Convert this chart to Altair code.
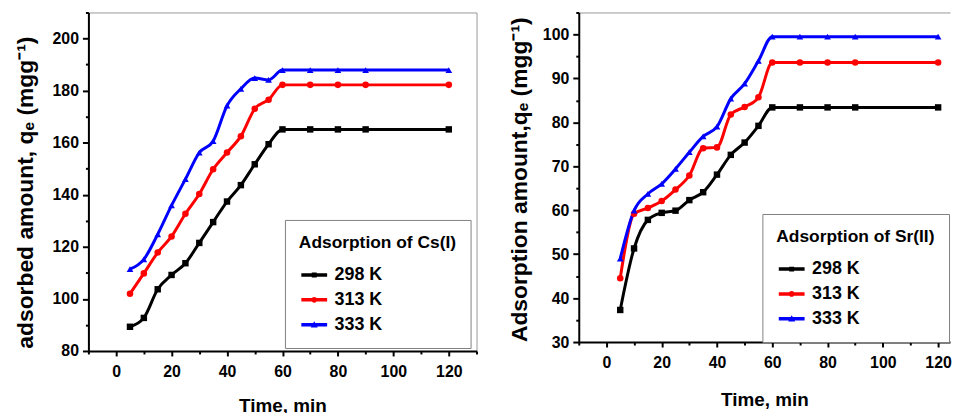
import altair as alt
import pandas as pd

# ---------------- data ----------------
time_min = [5, 10, 15, 20, 25, 30, 35, 40, 45, 50, 55, 60, 70, 80, 90, 120]
temperatures = ["298 K", "313 K", "333 K"]

cs_298 = [89.3, 92.7, 103.7, 109.2, 113.7, 121.5, 129.5, 137.4, 143.7, 151.7, 159.4, 165.1, 165.1, 165.1, 165.1, 165.1]
cs_313 = [102.0, 109.8, 117.8, 124.0, 132.7, 140.3, 149.8, 156.2, 162.5, 173.0, 176.5, 182.2, 182.2, 182.2, 182.2, 182.2]
cs_333 = [111.4, 115.2, 124.8, 135.9, 146.0, 156.2, 160.6, 174.2, 180.7, 184.8, 184.1, 187.9, 187.9, 187.9, 187.9, 187.9]

sr_298 = [37.3, 51.3, 57.8, 59.4, 59.9, 62.3, 64.1, 68.1, 72.6, 75.4, 79.2, 83.4, 83.4, 83.4, 83.4, 83.4]
sr_313 = [44.5, 59.2, 60.5, 62.1, 64.7, 67.9, 74.1, 74.3, 81.8, 83.5, 85.7, 93.6, 93.6, 93.6, 93.6, 93.6]
sr_333 = [49.0, 59.9, 63.7, 66.0, 69.4, 73.2, 76.8, 79.0, 85.4, 88.8, 94.0, 99.5, 99.5, 99.5, 99.5, 99.5]

cs_x_ticks = [-10, 0, 10, 20, 30, 40, 50, 60, 70, 80, 90, 100, 110, 120, 130]
cs_y_ticks = [80, 90, 100, 110, 120, 130, 140, 150, 160, 170, 180, 190, 200, 210]
sr_x_ticks = [-10, 0, 10, 20, 30, 40, 50, 60, 70, 80, 90, 100, 110, 120]
sr_y_ticks = [30, 35, 40, 45, 50, 55, 60, 65, 70, 75, 80, 85, 90, 95, 100, 105]

# ---------------- styling ----------------
colors = ["#000000", "#ff0000", "#0000ff"]
marker_shapes = ["square", "circle", "triangle-up"]
marker_sizes = [42, 45, 70]
# legend symbols: short line with the marker on it
legend_symbols = [
    "M-1,-0.27H3V0.27H-1Z M0.62,-0.38H1.38V0.38H0.62Z",
    "M-1,-0.27H3V0.27H-1Z M0.54,0A0.46,0.46 0 1,1 1.46,0A0.46,0.46 0 1,1 0.54,0Z",
    "M-1,-0.27H3V0.27H-1Z M0.46,0.42L1,-0.52L1.54,0.42Z",
]
FONT = "Liberation Sans"
FRAME = "#999999"


def long_table(series_list):
    rows = []
    for temp, vals in zip(temperatures, series_list):
        for t, q in zip(time_min, vals):
            rows.append({"time": t, "q": q, "temp": temp})
    return pd.DataFrame(rows)


def panel(df, y_title, y_title_size, y_title_y, y_domain, y_values, y_major, x_domain, x_values,
          legend_title, legend_x, legend_y, width, height, y_title_pad, x_title_pad, open_right):
    x_minor = "datum.value < 0 || datum.value > 120 || datum.value % 20 != 0"
    x_axis = alt.Axis(
        values=x_values, title="Time, min",
        labelExpr=f"({x_minor}) ? '' : datum.label",
        labelFontSize={"condition": {"test": x_minor, "value": 0}, "value": 16},
        tickSize={"condition": {"test": x_minor, "value": 3}, "value": 5},
        labelPadding=8, titlePadding=x_title_pad, titleFontSize=19, grid=False,
        labelFlush=False, labelOverlap=False,
    )
    y_minor = f"datum.value % {y_major} != 0"
    y_axis = alt.Axis(
        values=y_values, title=y_title, titleY=y_title_y,
        labelExpr=f"({y_minor}) ? '' : datum.label",
        labelFontSize={"condition": {"test": y_minor, "value": 0}, "value": 16},
        tickSize={"condition": {"test": y_minor, "value": 3}, "value": 6},
        labelPadding=4, titlePadding=y_title_pad, titleFontSize=y_title_size, grid=False,
        labelFlush=False, labelOverlap=False,
    )
    x_scale = alt.Scale(domain=x_domain, nice=False, zero=False)
    x = alt.X("time:Q", scale=x_scale, axis=x_axis)
    x_plain = alt.X("time:Q", scale=x_scale, axis=None)
    # top frame line drawn as a bare top axis (used where the right frame is cut off)
    x_top = alt.X("time:Q", scale=x_scale, axis=alt.Axis(
        orient="top", title=None, labels=False, ticks=False, grid=False,
        domainColor=FRAME, domainWidth=1))
    y = alt.Y("q:Q", scale=alt.Scale(domain=y_domain, nice=False, zero=False), axis=y_axis)
    color_scale = alt.Scale(domain=temperatures, range=colors)

    lines = alt.Chart(df).mark_line(interpolate="monotone", strokeWidth=3).encode(
        x=x, y=y, color=alt.Color("temp:N", scale=color_scale, legend=None)
    )
    points = alt.Chart(df).mark_point(filled=True, opacity=1).encode(
        x=x_top if open_right else x_plain, y=y,
        color=alt.Color("temp:N", scale=color_scale, legend=None),
        shape=alt.Shape("temp:N", scale=alt.Scale(domain=temperatures, range=marker_shapes), legend=None),
        size=alt.Size("temp:N", scale=alt.Scale(domain=temperatures, range=marker_sizes), legend=None),
    )
    leg = alt.Legend(
        title=legend_title, orient="none", legendX=legend_x, legendY=legend_y,
        direction="vertical", strokeColor="#808080", fillColor="white", padding=14,
        titleFont=FONT, titleFontSize=17.5, titleFontWeight="bold", titleColor="black",
        titlePadding=15, titleLimit=400,
        labelFont=FONT, labelFontSize=18, labelFontWeight="bold", labelColor="black",
        labelOffset=18, labelLimit=300,
        symbolSize=169, symbolStrokeWidth=0, symbolOpacity=1, rowPadding=7,
    )
    legend_layer = alt.Chart(df).mark_point(filled=True).encode(
        x=x_plain, y=y,
        color=alt.Color("temp:N", scale=color_scale, legend=leg),
        shape=alt.Shape("temp:N", scale=alt.Scale(domain=temperatures, range=legend_symbols), legend=leg),
    ).transform_filter("datum.time < 0")

    layered = alt.layer(lines, points, legend_layer).resolve_scale(
        color="independent", shape="independent", size="independent"
    ).resolve_axis(x="independent").properties(width=width, height=height)
    if open_right:
        layered = layered.properties(view=alt.ViewBackground(stroke="transparent"))
    return layered


left = panel(
    long_table([cs_298, cs_313, cs_333]),
    "adsorbed amount, qₑ (mgg⁻¹)", 23, 181, [80, 210], cs_y_ticks, 20,
    [-10, 130], cs_x_ticks, "Adsorption of Cs(I)", 198, 209, 391, 341, 15, 17, False,
)
right = panel(
    long_table([sr_298, sr_313, sr_333]),
    "Adsorption amount,qₑ (mgg⁻¹)", 23, 168, [30, 105], sr_y_ticks, 10,
    [-10, 124.3], sr_x_ticks, "Adsorption of Sr(II)", 185, 203, 374, 332, 11, 20, True,
)

chart = alt.hconcat(left, right, spacing=29).configure_view(
    stroke=FRAME, strokeWidth=1
).configure_axis(
    domainColor="black", domainWidth=2, tickColor="black", tickWidth=2,
    labelFont=FONT, labelFontSize=16, labelFontWeight="bold", labelColor="black",
    titleFont=FONT, titleFontWeight="bold", titleColor="black",
).properties(
    padding={"left": 5, "top": 1, "right": 0, "bottom": 0}, background="white"
)

chart.save("out.html", embed_options={"renderer": "svg", "actions": False})
